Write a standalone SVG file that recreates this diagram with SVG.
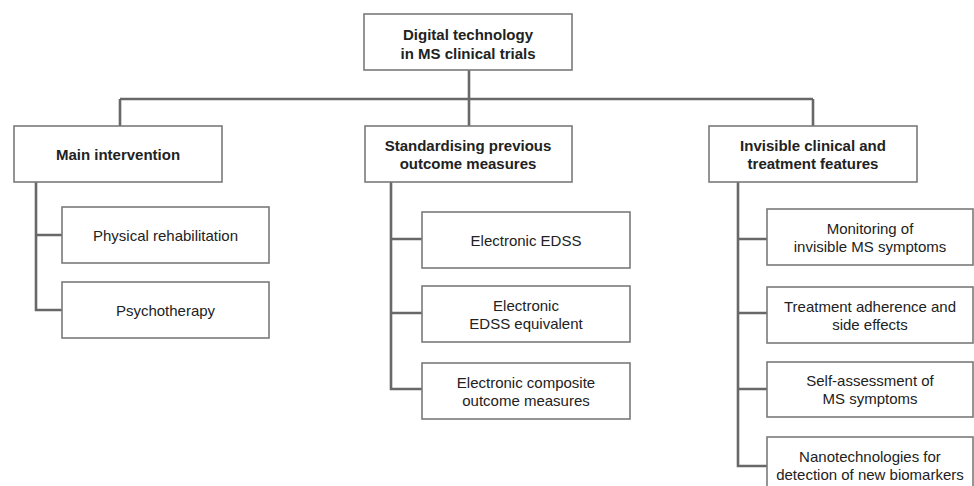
<svg xmlns="http://www.w3.org/2000/svg" width="974" height="486" viewBox="0 0 974 486">
<style>
.box{fill:#fff;stroke:#7a7a7a;stroke-width:1.6}
.t{font-family:"Liberation Sans",Arial,sans-serif;font-size:15px;fill:#222;text-anchor:middle}
.b{font-weight:bold}
.c{fill:none;stroke:#686868;stroke-width:2.6}
</style>
<rect width="974" height="486" fill="#fff"/>
<g id="connectors">
<path class="c" d="M469 70V99M120 99H813M120 99V126M469 99V126M813 99V126"/>
<path class="c" d="M36 182V310H62M36 235H62"/>
<path class="c" d="M391 182V389H422M391 239H422M391 313H422"/>
<path class="c" d="M738 182V466H767M738 239H767M738 313H767M738 389H767"/>
</g>
<g id="root"><rect class="box" x="364" y="14" width="208" height="56"/><text class="t b" x="468" y="40">Digital technology</text><text class="t b" x="468" y="58.5">in MS clinical trials</text></g>
<g id="main"><rect class="box" x="14" y="126" width="208" height="56"/><text class="t b" x="118" y="160">Main intervention</text></g>
<g id="standard"><rect class="box" x="365" y="126" width="207" height="56"/><text class="t b" x="468" y="150.5">Standardising previous</text><text class="t b" x="468" y="169">outcome measures</text></g>
<g id="invisible"><rect class="box" x="709" y="126" width="208" height="56"/><text class="t b" x="813" y="150.5">Invisible clinical and</text><text class="t b" x="813" y="169">treatment features</text></g>
<g id="physical"><rect class="box" x="62" y="207" width="207" height="56"/><text class="t" x="165.5" y="240.5">Physical rehabilitation</text></g>
<g id="psycho"><rect class="box" x="62" y="282" width="207" height="56"/><text class="t" x="165.5" y="315.5">Psychotherapy</text></g>
<g id="edss"><rect class="box" x="422" y="212" width="208" height="56"/><text class="t" x="526" y="245.5">Electronic EDSS</text></g>
<g id="edsseq"><rect class="box" x="422" y="286" width="208" height="56"/><text class="t" x="526" y="310.5">Electronic</text><text class="t" x="526" y="328.5">EDSS equivalent</text></g>
<g id="composite"><rect class="box" x="422" y="363" width="208" height="56"/><text class="t" x="526" y="387.5">Electronic composite</text><text class="t" x="526" y="405.5">outcome measures</text></g>
<g id="monitor"><rect class="box" x="767" y="209" width="206" height="56"/><text class="t" x="870" y="233.5">Monitoring of</text><text class="t" x="870" y="251.5">invisible MS symptoms</text></g>
<g id="adherence"><rect class="box" x="767" y="287" width="206" height="56"/><text class="t" x="870" y="311.5">Treatment adherence and</text><text class="t" x="870" y="329.5">side effects</text></g>
<g id="self"><rect class="box" x="767" y="362" width="206" height="55"/><text class="t" x="870" y="386">Self-assessment of</text><text class="t" x="870" y="404">MS symptoms</text></g>
<g id="nano"><rect class="box" x="767" y="437" width="206" height="56"/><text class="t" x="870" y="461.5">Nanotechnologies for</text><text class="t" x="870" y="479.5">detection of new biomarkers</text></g>
</svg>
